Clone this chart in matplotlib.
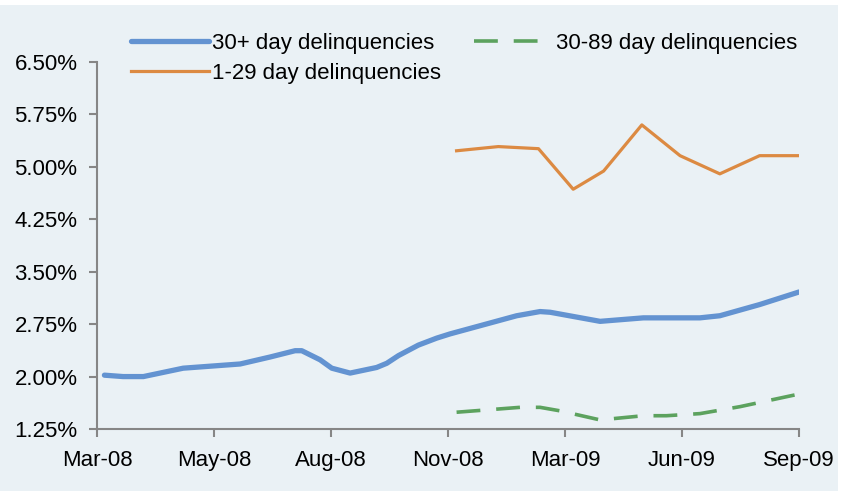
import matplotlib
matplotlib.use("Agg")
import matplotlib.pyplot as plt
from matplotlib.patches import Rectangle

plt.rcParams['font.family'] = ['Liberation Sans', 'DejaVu Sans']

# x positions in category units (ticks every 3 categories)
tick_pos = [0, 3, 6, 9, 12, 15, 18]
tick_labels = ['Mar-08', 'May-08', 'Aug-08', 'Nov-08', 'Mar-09', 'Jun-09', 'Sep-09']
y_ticks = [1.25, 2.00, 2.75, 3.50, 4.25, 5.00, 5.75, 6.50]

# 30+ day delinquencies (%)
d30_x = [0.19, 0.67, 1.19, 2.21, 3.67, 4.44, 5.08, 5.25, 5.72, 6.02, 6.49, 7.17, 7.43,
         7.73, 8.24, 8.71, 9.05, 10.76, 11.36, 11.62, 12.90, 14.01, 15.46, 15.97, 16.99, 18.0]
d30_y = [2.02, 2.00, 2.00, 2.12, 2.18, 2.28, 2.37, 2.37, 2.24, 2.12, 2.05, 2.13, 2.19,
         2.30, 2.45, 2.55, 2.61, 2.87, 2.93, 2.92, 2.79, 2.84, 2.84, 2.87, 3.03, 3.21]

# 1-29 day delinquencies (%)
d1_x = [9.22, 10.29, 11.32, 12.21, 12.99, 13.97, 14.95, 15.97, 16.99, 18.0]
d1_y = [5.23, 5.29, 5.26, 4.68, 4.94, 5.60, 5.16, 4.90, 5.16, 5.16]

# 30-89 day delinquencies (%)
d89_x = [9.22, 10.85, 11.36, 11.87, 12.90, 14.01, 14.60, 15.46, 16.49, 18.0]
d89_y = [1.49, 1.56, 1.56, 1.51, 1.38, 1.44, 1.44, 1.47, 1.57, 1.75]

bg = '#EAF1F5'
blue = '#6393D1'
orange = '#DC8A42'
green = '#5CA25E'
grey = '#868686'

fig = plt.figure(figsize=(8.42, 4.91), dpi=100)
fig.patch.set_facecolor('white')
fig.patches.append(Rectangle((0, 0), 838 / 842, 486 / 491, transform=fig.transFigure,
                             facecolor=bg, edgecolor='none', zorder=-10))

ax = fig.add_axes([97 / 842, 1 - 429 / 491, 702 / 842, 367 / 491])
ax.set_facecolor(bg)

l1, = ax.plot(d30_x, d30_y, color=blue, lw=3.8, solid_capstyle='round',
              solid_joinstyle='round', label='30+ day delinquencies')
l2, = ax.plot(d1_x, d1_y, color=orange, lw=2.3, solid_joinstyle='round',
              label='1-29 day delinquencies')
l3, = ax.plot(d89_x, d89_y, color=green, lw=2.6, dashes=[6.6, 4.4],
              label='30-89 day delinquencies')

ax.set_xlim(0, 18)
ax.set_ylim(1.25, 6.5)
ax.set_xticks(tick_pos)
ax.set_xticklabels(tick_labels)
ax.set_yticks(y_ticks)
ax.set_yticklabels([f'{v:.2f}%' for v in y_ticks])

for s in ['top', 'right']:
    ax.spines[s].set_visible(False)
for s in ['left', 'bottom']:
    ax.spines[s].set_color(grey)
    ax.spines[s].set_linewidth(1.5)

ax.tick_params(axis='both', colors=grey, labelcolor='black', labelsize=16,
               length=6, width=1.5, direction='out')
ax.tick_params(axis='x', pad=9)
ax.tick_params(axis='y', pad=8)

fig.legend(handles=[l1, l2, l3], ncol=2, loc='upper left',
           bbox_to_anchor=(131 / 842, 1 - 33 / 491), frameon=False,
           fontsize=16, handlelength=3.5, handletextpad=0.15, columnspacing=1.5,
           labelspacing=0.4, borderpad=0, borderaxespad=0)

fig.savefig('out.png', dpi=100)
